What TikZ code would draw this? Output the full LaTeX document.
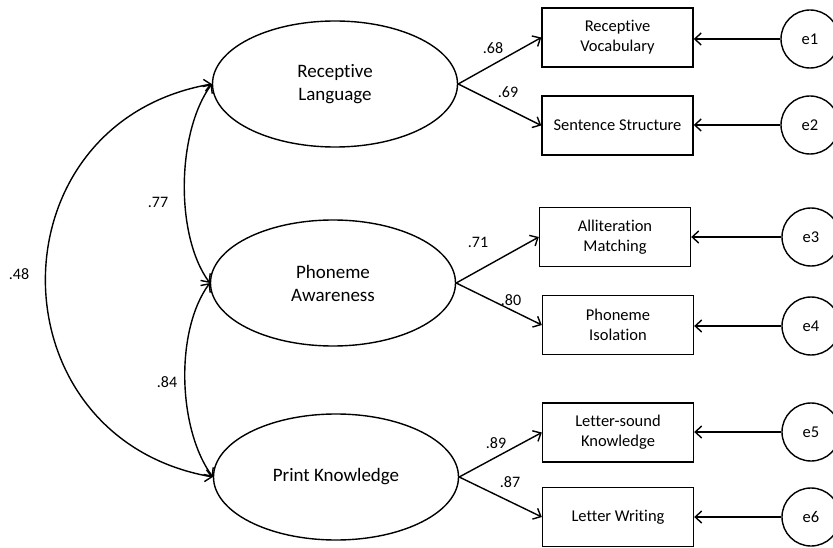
\documentclass[tikz,border=0pt]{standalone}
\usepackage{fontspec}
\setmainfont{Carlito}[Ligatures=NoCommon]
\usetikzlibrary{shapes.geometric,arrows.meta}
\begin{document}
\begin{tikzpicture}[x=1pt,y=-1pt,
  >={Straight Barb[length=6.5pt,width=12pt]},
  latent/.style={draw, ellipse, line width=1.4pt, minimum width=245pt,
    minimum height=126pt, inner sep=0pt, align=center,
    font=\fontsize{19}{23}\selectfont},
  observed/.style={draw, rectangle, line width=1.4pt, minimum width=151pt,
    minimum height=59pt, inner sep=0pt, align=center,
    font=\fontsize{16.5}{20}\selectfont},
  errterm/.style={draw, circle, line width=1.4pt, minimum size=58pt,
    inner sep=0pt, font=\fontsize{16.5}{20}\selectfont},
  regpath/.style={line width=1.4pt, ->},
  covpath/.style={line width=1.4pt, <->},
  coef/.style={inner sep=0pt, font=\fontsize{16}{19}\selectfont}
]
\useasboundingbox (0,0) rectangle (833,548);

% latent factors
\node[latent] (RL) at (335,84)  {Receptive\\Language};
\node[latent] (PA) at (333,283) {Phoneme\\Awareness};
\node[latent] (PK) at (336,477) {Print Knowledge};

% indicators
\node[observed] (RV) at (617.5,37.5) {Receptive\\Vocabulary};
\node[observed] (SS) at (617.5,125.5) {Sentence Structure};
\node[observed] (AM) at (615,237) {Alliteration\\Matching};
\node[observed] (PI) at (618,325) {Phoneme\\Isolation};
\node[observed] (LS) at (618,432.5) {Letter-sound\\Knowledge};
\node[observed] (LW) at (618,517) {Letter Writing};

% error terms
\node[errterm] (e1) at (810,39)  {e1};
\node[errterm] (e2) at (810,125) {e2};
\node[errterm] (e3) at (811,237) {e3};
\node[errterm] (e4) at (811,326) {e4};
\node[errterm] (e5) at (811,432) {e5};
\node[errterm] (e6) at (811,517) {e6};

% factor loadings
\draw[regpath] (RL.east) -- (RV.west);
\draw[regpath] (RL.east) -- (SS.west);
\draw[regpath] (PA.east) -- (AM.west);
\draw[regpath] (PA.east) -- (PI.west);
\draw[regpath] (PK.east) -- (LS.west);
\draw[regpath] (PK.east) -- (LW.west);

% residuals
\foreach \e/\b in {e1/RV, e2/SS, e3/AM, e4/PI, e5/LS, e6/LW}
  \draw[regpath] (\e.west) -- (\e.west -| \b.east);

% factor covariances
\draw[covpath] (RL.west) .. controls +(-35,48) and +(-35,-48) .. (PA.west);
\draw[covpath] (PA.west) .. controls +(-35,48) and +(-35,-48) .. (PK.west);
\draw[covpath] (RL.west) .. controls +(-222,39) and +(-222,-39) .. (PK.west);

% coefficients
\node[coef] (c68) at (493,48)  {.68};
\node[coef] (c69) at (508,92)  {.69};
\node[coef] (c71) at (478,242) {.71};
\node[coef] (c80) at (511,300) {.80};
\node[coef] (c89) at (496,443) {.89};
\node[coef] (c87) at (510,482) {.87};
\node[coef] (c77) at (158,202) {.77};
\node[coef] (c84) at (167,382) {.84};
\node[coef] (c48) at (19,274)  {.48};
\end{tikzpicture}
\end{document}
